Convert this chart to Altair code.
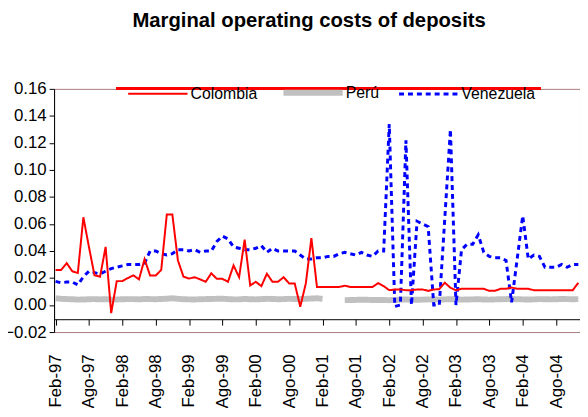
import json
import altair as alt
import pandas as pd

# ---- data ----
tick_labels = ["Feb-97", "Ago-97", "Feb-98", "Ago-98", "Feb-99", "Ago-99", "Feb-00", "Ago-00",
               "Feb-01", "Ago-01", "Feb-02", "Ago-02", "Feb-03", "Ago-03", "Feb-04", "Ago-04"]

series_names = ["Colombia", "Perú", "Venezuela"]

colombia = [0.026, 0.026, 0.031, 0.025, 0.0237, 0.065, 0.043, 0.022, 0.021, 0.043,
            -0.006, 0.0177, 0.0177, 0.020, 0.022, 0.019, 0.034, 0.0218, 0.0218, 0.026,
            0.067, 0.067, 0.033, 0.021, 0.0196, 0.0206, 0.019, 0.0172, 0.0235, 0.0194,
            0.0194, 0.0172, 0.0293, 0.0206, 0.0484, 0.0145, 0.0172, 0.014, 0.0232, 0.0172,
            0.0172, 0.0206, 0.016, 0.016, -0.0012, 0.016, 0.0496, 0.0134, 0.0134, 0.0134,
            0.0134, 0.0134, 0.0143, 0.0134, 0.0134, 0.0134, 0.0134, 0.0134, 0.0162, 0.014,
            0.011, 0.0115, 0.0115, 0.011, 0.011, 0.0115, 0.0115, 0.0105, 0.0115, 0.0118,
            0.0165, 0.0128, 0.0109, 0.012, 0.012, 0.012, 0.012, 0.012, 0.0105, 0.0105,
            0.012, 0.012, 0.013, 0.012, 0.012, 0.012, 0.011, 0.011, 0.011, 0.011,
            0.011, 0.011, 0.011, 0.011, 0.0165]

peru = [0.0050, 0.0046, 0.0044, 0.0043, 0.0040, 0.0041, 0.0043, 0.0044, 0.0042, 0.0043,
        0.0040, 0.0041, 0.0043, 0.0044, 0.0044, 0.0042, 0.0045, 0.0044, 0.0043, 0.0045,
        0.0047, 0.0050, 0.0046, 0.0043, 0.0042, 0.0041, 0.0043, 0.0044, 0.0045, 0.0046,
        0.0047, 0.0044, 0.0042, 0.0042, 0.0045, 0.0043, 0.0042, 0.0044, 0.0046, 0.0045,
        0.0043, 0.0044, 0.0046, 0.0045, 0.0044, 0.0046, 0.0048, 0.0050, 0.0046, None,
        None, None, 0.0036, 0.0037, 0.0038, 0.0040, 0.0039, 0.0037, 0.0038, 0.0037,
        0.0036, 0.0038, 0.0040, 0.0041, 0.0040, 0.0039, 0.0040, 0.0042, 0.0041, 0.0040,
        0.0042, 0.0043, 0.0042, 0.0040, 0.0041, 0.0042, 0.0043, 0.0041, 0.0040, 0.0042,
        0.0043, 0.0044, 0.0045, 0.0043, 0.0042, 0.0041, 0.0042, 0.0044, 0.0043, 0.0042,
        0.0043, 0.0045, 0.0044, 0.0043, 0.0044]

venezuela = [0.0175, 0.0165, 0.017, 0.017, 0.015, 0.021, 0.025, 0.024, 0.023, 0.025,
             0.027, 0.028, 0.029, 0.030, 0.030, 0.030, 0.031, 0.040, 0.040, 0.038,
             0.037, 0.038, 0.041, 0.041, 0.040, 0.041, 0.039, 0.040, 0.040, 0.047,
             0.051, 0.049, 0.043, 0.042, 0.041, 0.041, 0.042, 0.044, 0.039, 0.042,
             0.040, 0.040, 0.040, 0.040, 0.037, 0.034, 0.034, 0.035, 0.035, 0.036,
             0.036, 0.038, 0.039, 0.038, 0.037, 0.039, 0.037, 0.036, 0.040, 0.040,
             0.134, -0.001, 0.0, 0.122, 0.0, 0.062, 0.060, 0.058, 0.0, 0.0,
             0.065, 0.130, 0.0, 0.041, 0.045, 0.045, 0.052, 0.039, 0.036, 0.035,
             0.035, 0.033, 0.002, 0.034, 0.066, 0.034, 0.037, 0.036, 0.028, 0.028,
             0.028, 0.030, 0.028, 0.030, 0.030]

y_ticks = [-0.02, 0.0, 0.02, 0.04, 0.06, 0.08, 0.10, 0.12, 0.14, 0.16]

# ---- table ----
rows = []
for name, vals in [("Perú", peru), ("Venezuela", venezuela), ("Colombia", colombia)]:
    for i, v in enumerate(vals):
        rows.append({"idx": i, "value": v, "series": name})
df = pd.DataFrame(rows)

FONT = "Liberation Sans"
x_values = [6 * k for k in range(len(tick_labels))]
label_expr = json.dumps(tick_labels) + "[round(datum.value / 6)]"

legend = alt.Legend(
    orient="none", legendX=72, legendY=-29, direction="horizontal", columns=3,
    symbolType="stroke", symbolSize=3600, labelFontSize=16, labelFont=FONT,
    labelColor="black", labelOffset=0, columnPadding=14, padding=0, title=None,
)

lines = alt.Chart(df).mark_line(invalid="break-paths-filter-domains").encode(
    x=alt.X("idx:Q",
            scale=alt.Scale(domain=[-0.27, 94.3], nice=False, zero=False),
            axis=alt.Axis(values=x_values, labelExpr=label_expr, labelAngle=270,
                          offset=-13, tickSize=6, labelPadding=29, grid=False,
                          domainColor="black", tickColor="black", labelColor="black",
                          labelFont=FONT, labelFontSize=17, title=None)),
    y=alt.Y("value:Q",
            scale=alt.Scale(domain=[-0.02, 0.16], nice=False),
            axis=alt.Axis(values=y_ticks, format=".2f", tickSize=5, labelPadding=3,
                          grid=False, domainColor="black", tickColor="black",
                          labelColor="black", labelFont=FONT, labelFontSize=17,
                          title=None)),
    color=alt.Color("series:N",
                    scale=alt.Scale(domain=series_names, range=["#ff0000", "#c0c0c0", "#0000ff"]),
                    legend=legend, title=None),
    strokeDash=alt.StrokeDash("series:N",
                              scale=alt.Scale(domain=series_names, range=[[1, 0], [1, 0], [5, 4]]),
                              legend=legend, title=None),
    strokeWidth=alt.StrokeWidth("series:N",
                                scale=alt.Scale(type="ordinal", domain=series_names, range=[2, 6, 3]),
                                legend=legend, title=None),
)

top_line = alt.Chart(df).mark_rule(color="#ff0000", strokeWidth=2.5).encode(
    x=alt.value(63), x2=alt.value(492), y=alt.value(0)
)

chart = alt.layer(lines, top_line).properties(
    width=532, height=246,
    padding={"left": 46.6, "top": 79.5, "right": 0, "bottom": 74},
    autosize=alt.AutoSizeParams(type="none"),
    title=alt.Title("Marginal operating costs of deposits", font=FONT, fontSize=20.5,
                    fontWeight="bold", color="black", anchor="middle", offset=29, dx=-8),
).configure_view(stroke="#a87c7c", strokeWidth=1)

chart.save("out.html", embed_options={"renderer": "svg", "actions": False})
